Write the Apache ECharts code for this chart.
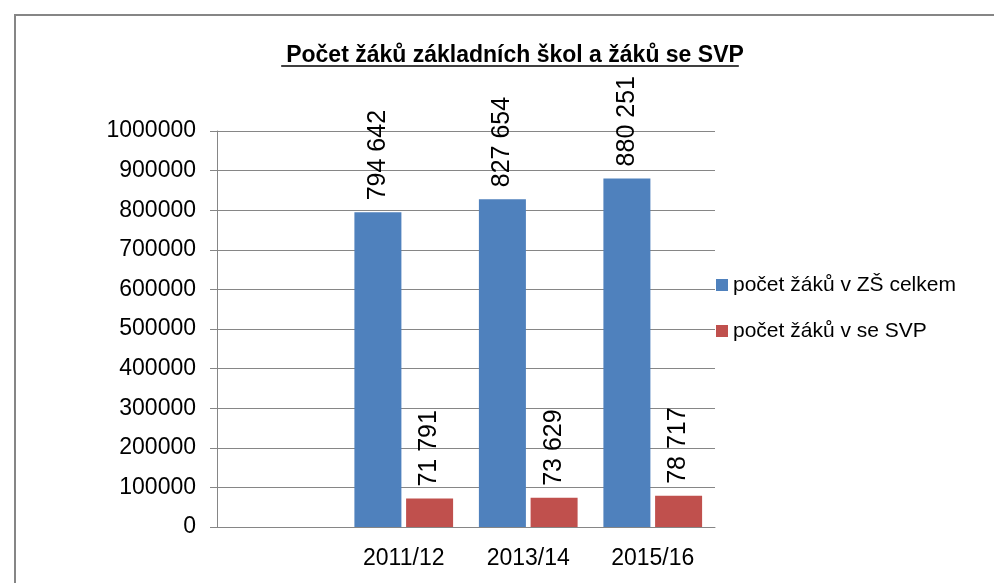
<!DOCTYPE html>
<html lang="cs">
<head>
  <meta charset="UTF-8">
  <title>Počet žáků základních škol a žáků se SVP</title>
  <style>
    html, body { padding: 0; margin: 0; background: #fff; }
    #myChart { width: 994px; height: 583px; }
  </style>
</head>
<body>
  <div id="myChart"></div>
  <script src="https://cdn.jsdelivr.net/npm/echarts@6/dist/echarts.min.js"></script>
  <script>
    const titleText = 'Počet žáků základních škol a žáků se SVP';
    const categories = ['', '2011/12', '2013/14', '2015/16'];
    const totalName = 'počet žáků v ZŠ celkem';
    const svpName = 'počet žáků v se SVP';
    const totalValues = [null, 794642, 827654, 880251];
    const svpValues = [null, 71791, 73629, 78717];

    const font = 'Liberation Sans';
    const titleSize = 23;

    // measure title so the underline fits the text
    const ctx = document.createElement('canvas').getContext('2d');
    ctx.font = 'bold ' + titleSize + 'px "Liberation Sans"';
    const titleW = ctx.measureText(titleText).width;
    const titleCx = 510;

    // numbers with a space as thousands separator
    const fmt = v => String(v).replace(/\B(?=(\d{3})+(?!\d))/g, ' ');

    const labelCfg = {
      show: true,
      position: 'top',
      rotate: 90,
      align: 'left',
      verticalAlign: 'middle',
      distance: 12,
      color: '#000',
      fontFamily: font,
      fontSize: 25,
      formatter: p => fmt(p.value)
    };

    const myChart = echarts.init(document.getElementById('myChart'));
    const option = {
      backgroundColor: '#fff',
      animation: false,
      title: {
        text: titleText,
        left: titleCx,
        textAlign: 'center',
        top: 39,
        textStyle: {
          fontFamily: font,
          fontWeight: 'bold',
          fontSize: titleSize,
          color: '#000'
        }
      },
      graphic: [
        { type: 'line', shape: { x1: 14, y1: 15, x2: 994, y2: 15 }, style: { stroke: '#868686', lineWidth: 2 } },
        { type: 'line', shape: { x1: 15, y1: 14, x2: 15, y2: 583 }, style: { stroke: '#868686', lineWidth: 2 } },
        { type: 'line', shape: { x1: titleCx - titleW / 2, y1: 66, x2: titleCx + titleW / 2, y2: 66 }, style: { stroke: '#000', lineWidth: 1.5 } }
      ],
      legend: {
        orient: 'vertical',
        left: 711,
        top: 268,
        icon: 'rect',
        itemWidth: 12,
        itemHeight: 12,
        itemGap: 22,
        textStyle: { fontFamily: font, fontSize: 21, lineHeight: 24, color: '#000' },
        data: [totalName, svpName]
      },
      grid: { left: 217, top: 131, right: 279, bottom: 56 },
      xAxis: {
        type: 'category',
        data: categories,
        axisLine: { lineStyle: { color: '#868686' } },
        axisTick: { length: 8, lineStyle: { color: '#868686' } },
        axisLabel: { color: '#000', fontFamily: font, fontSize: 23, margin: 20 }
      },
      yAxis: {
        type: 'value',
        min: 0,
        max: 1000000,
        interval: 100000,
        axisLine: { show: true, lineStyle: { color: '#868686' } },
        axisTick: { show: true, length: 7, lineStyle: { color: '#868686' } },
        splitLine: { lineStyle: { color: '#868686' } },
        axisLabel: { color: '#000', fontFamily: font, fontSize: 23, margin: 21, formatter: v => String(v) }
      },
      series: [{
        name: totalName,
        type: 'bar',
        data: totalValues,
        barWidth: 47,
        barGap: '10%',
        itemStyle: { color: '#4F81BD' },
        label: labelCfg
      }, {
        name: svpName,
        type: 'bar',
        data: svpValues,
        barWidth: 47,
        itemStyle: { color: '#C0504D' },
        label: labelCfg
      }]
    };
    myChart.setOption(option);
  </script>
</body>
</html>
